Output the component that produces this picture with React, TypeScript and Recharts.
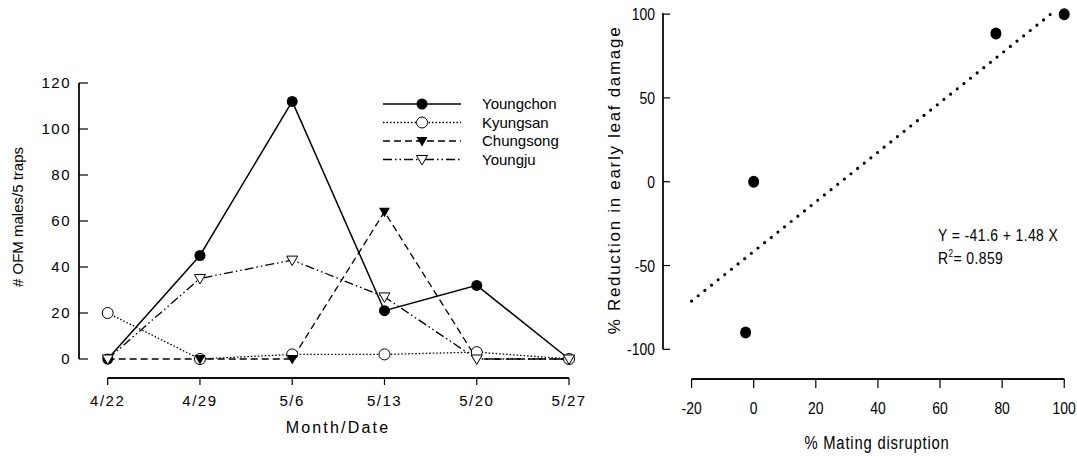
import React from 'react';
import { LineChart, Line, XAxis, YAxis, ScatterChart, Scatter } from 'recharts';

// left panel: weekly trap catches
const dates = ['4/22', '4/29', '5/6', '5/13', '5/20', '5/27'];
const youngchon = [0, 45, 112, 21, 32, 0];
const kyungsan = [20, 0, 2, 2, 3, 0];
const chungsong = [0, 0, 0, 64, 0, 0];
const youngju = [0, 35, 43, 27, 0, 0];
const countTicks = [0, 20, 40, 60, 80, 100, 120];

// right panel: disruption vs. damage reduction
const disruption = [-2.6, 0, 78, 100];
const reduction = [-90, 0, 88.5, 100];
const fitX = [-20, 96];
const fitY = [-71.2, 100.5];
const disruptionTicks = [-20, 0, 20, 40, 60, 80, 100];
const reductionTicks = [-100, -50, 0, 50, 100];

const SANS = "'Liberation Sans', Arial, sans-serif";
const NARROW_SCALE = 0.82; // no Arial Narrow here, squeeze Liberation Sans instead
const OFF = 8; // default tickSize (6) + tickMargin (2): custom ticks get x/y shifted by this

// plot boxes (SigmaPlot style: axes are detached and only span the tick range)
const L = { w: 600, h: 457, top: 83, left: 79, right: 580, bottom: 378, x0: -0.311, x1: 5.119, y0: -8.26, y1: 120 };
const R = { w: 477, h: 457, top: 13.3, left: 63, right: 472, bottom: 379, x0: -29.2, x1: 102.5, y0: -117.7, y1: 100 };

// pixel length of a value span along each axis of a box
const spanX = (b: any, a: number, c: number) => ((c - a) / (b.x1 - b.x0)) * (b.right - b.left);
const spanY = (b: any, a: number, c: number) => ((c - a) / (b.y1 - b.y0)) * (b.bottom - b.top);

// axis lines trimmed to the tick range with a dash pattern
const leftYLine = { stroke: '#000', strokeWidth: 1.3, strokeDasharray: `${spanY(L, 0, 120)} 2000` };
const leftXLine = { stroke: '#000', strokeWidth: 1.3, strokeDasharray: `0 ${spanX(L, L.x0, 0)} ${spanX(L, 0, 5)} 2000` };
const rightYLine = { stroke: '#000', strokeWidth: 1.3, strokeDasharray: `${spanY(R, -100, 100)} 2000` };
const rightXLine = { stroke: '#000', strokeWidth: 1.3, strokeDasharray: `0 ${spanX(R, R.x0, -20)} ${spanX(R, -20, 100)} 2000` };

const trapData = dates.map((d, i) => ({
    idx: i,
    date: d,
    youngchon: youngchon[i],
    kyungsan: kyungsan[i],
    chungsong: chungsong[i],
    youngju: youngju[i],
}));

const scatterData = disruption.map((x, i) => ({ x, y: reduction[i] }));
const fitData = fitX.map((x, i) => ({ x, y: fitY[i] }));

type Marker = 'dot' | 'ring' | 'tri' | 'openTri';

const series: { key: string; name: string; dash?: string; width: number; marker: Marker }[] = [
    { key: 'youngchon', name: 'Youngchon', width: 1.5, marker: 'dot' },
    { key: 'kyungsan', name: 'Kyungsan', dash: '1.5 2', width: 1.3, marker: 'ring' },
    { key: 'chungsong', name: 'Chungsong', dash: '7 4', width: 1.3, marker: 'tri' },
    { key: 'youngju', name: 'Youngju', dash: '9 3 1.5 3 1.5 3', width: 1.3, marker: 'openTri' },
];

const drawMarker = (kind: Marker, cx: number, cy: number, key?: string) => {
    if (kind === 'dot') return <circle key={key} cx={cx} cy={cy} r={5.5} fill="#000" />;
    if (kind === 'ring') return <circle key={key} cx={cx} cy={cy} r={5.5} fill="#fff" stroke="#000" strokeWidth={1} />;
    const pts = `${cx - 5.5},${cy - 4} ${cx + 5.5},${cy - 4} ${cx},${cy + 5.5}`;
    if (kind === 'tri') return <polygon key={key} points={pts} fill="#000" />;
    return <polygon key={key} points={pts} fill="#fff" stroke="#000" strokeWidth={1} />;
};

// the lowest tick of each axis also carries the (trimmed) axis line
const isFirst = (payload: any, first: number) => Math.abs(Number(payload?.value) - first) < 1e-6;

const LeftYTick = ({ x, y, payload }: any) => {
    const ax = Number(x) + OFF;
    const py = Number(y);
    return (
        <g>
            {isFirst(payload, countTicks[0]) && (
                <path d={`M${ax},${py}V${py - spanY(L, 0, 120)}`} stroke="#000" strokeWidth={1.3} fill="none" />
            )}
            <line x1={ax} x2={ax + 9} y1={py} y2={py} stroke="#000" strokeWidth={1.2} />
            <text x={ax - 8} y={py} dy="0.36em" textAnchor="end" fontSize={15} letterSpacing={1.5} fontFamily={SANS} fill="#000">
                {payload.value}
            </text>
        </g>
    );
};

const LeftXTick = ({ x, y, payload }: any) => {
    const px = Number(x);
    const ay = Number(y) - OFF;
    return (
        <g>
            {isFirst(payload, 0) && (
                <path d={`M${px},${ay}H${px + spanX(L, 0, 5)}`} stroke="#000" strokeWidth={1.3} fill="none" />
            )}
            <line x1={px} x2={px} y1={ay} y2={ay + 7} stroke="#000" strokeWidth={1.2} />
            <text x={px} y={ay + 28} textAnchor="middle" fontSize={15} letterSpacing={1.5} fontFamily={SANS} fill="#000">
                {dates[payload.value]}
            </text>
        </g>
    );
};

const RightYTick = ({ x, y, payload }: any) => {
    const ax = Number(x) + OFF;
    const py = Number(y);
    return (
        <g>
            {isFirst(payload, reductionTicks[0]) && (
                <path d={`M${ax},${py}V${py - spanY(R, -100, 100)}`} stroke="#000" strokeWidth={1.3} fill="none" />
            )}
            <line x1={ax} x2={ax + 7} y1={py} y2={py} stroke="#000" strokeWidth={1.2} />
            <text transform={`translate(${ax - 8},${py}) scale(${NARROW_SCALE},1)`} dy="0.36em" textAnchor="end" fontSize={17} fontFamily={SANS} fill="#000">
                {payload.value}
            </text>
        </g>
    );
};

const RightXTick = ({ x, y, payload }: any) => {
    const px = Number(x);
    const ay = Number(y) - OFF;
    return (
        <g>
            {isFirst(payload, disruptionTicks[0]) && (
                <path d={`M${px},${ay}H${px + spanX(R, -20, 100)}`} stroke="#000" strokeWidth={1.3} fill="none" />
            )}
            <line x1={px} x2={px} y1={ay} y2={ay + 9} stroke="#000" strokeWidth={1.2} />
            <text transform={`translate(${px},${ay + 35}) scale(${NARROW_SCALE},1)`} textAnchor="middle" fontSize={17} fontFamily={SANS} fill="#000">
                {payload.value}
            </text>
        </g>
    );
};

const TrapLegend = () => (
    <svg width={190} height={76} style={{ position: 'absolute', left: 383, top: 94 }}>
        {series.map((s, i) => {
            const y = 10 + i * 18.5;
            return (
                <g key={s.key}>
                    <line x1={0} x2={78} y1={y} y2={y} stroke="#000" strokeWidth={s.width} strokeDasharray={s.dash} />
                    {drawMarker(s.marker, 39, y)}
                    <text x={99} y={y} dy="0.36em" fontSize={15} fontFamily={SANS} fill="#000">{s.name}</text>
                </g>
            );
        })}
    </svg>
);

const txt: React.CSSProperties = { position: 'absolute', whiteSpace: 'nowrap', color: '#000', lineHeight: 1, fontFamily: SANS };

export default function App() {
    return (
        <div style={{ position: 'absolute', left: 0, top: 0, width: 1077, height: 457, background: '#fff' }}>
            <div style={{ position: 'absolute', left: 0, top: 0 }}>
                <LineChart width={L.w} height={L.h} data={trapData}
                    margin={{ top: L.top, right: L.w - L.right, bottom: L.h - L.bottom - 30, left: L.left - 60 }}>
                    <XAxis type="number" dataKey="idx" domain={[L.x0, L.x1]} ticks={[0, 1, 2, 3, 4, 5]}
                        axisLine={leftXLine} tickLine={false} tick={LeftXTick} height={30} />
                    <YAxis type="number" domain={[L.y0, L.y1]} ticks={countTicks}
                        axisLine={leftYLine} tickLine={false} tick={LeftYTick} width={60} />
                    {series.map((s) => (
                        <Line
                            key={s.key}
                            type="linear"
                            dataKey={s.key}
                            name={s.name}
                            stroke="#000"
                            strokeWidth={s.width}
                            strokeDasharray={s.dash}
                            dot={(p: any) => drawMarker(s.marker, p.cx, p.cy, `${s.key}-${p.index}`)}
                            activeDot={false}
                            isAnimationActive={false}
                        />
                    ))}
                </LineChart>
            </div>
            <TrapLegend />

            <div style={{ ...txt, left: 17, top: 217, transform: 'translate(-50%, -50%) rotate(-90deg)', fontSize: 15 }}>
                # OFM males/5 traps
            </div>
            <div style={{ ...txt, left: 338, top: 428, transform: 'translate(-50%, -50%)', fontSize: 16, letterSpacing: 2.2 }}>
                Month/Date
            </div>

            <div style={{ position: 'absolute', left: 600, top: 0 }}>
                <ScatterChart width={R.w} height={R.h}
                    margin={{ top: R.top, right: R.w - R.right, bottom: R.h - R.bottom - 30, left: R.left - 50 }}>
                    <XAxis type="number" dataKey="x" domain={[R.x0, R.x1]} ticks={disruptionTicks}
                        axisLine={rightXLine} tickLine={false} tick={RightXTick} height={30} />
                    <YAxis type="number" dataKey="y" domain={[R.y0, R.y1]} ticks={reductionTicks}
                        axisLine={rightYLine} tickLine={false} tick={RightYTick} width={50} />
                    <Scatter
                        data={fitData}
                        line={{ stroke: '#000', strokeWidth: 3.2, strokeDasharray: '0 8.5', strokeLinecap: 'round' }}
                        shape={() => <g />}
                        isAnimationActive={false}
                    />
                    <Scatter
                        data={scatterData}
                        shape={(p: any) => <ellipse cx={p.cx} cy={p.cy} rx={5.5} ry={6} fill="#000" />}
                        isAnimationActive={false}
                    />
                </ScatterChart>
            </div>

            <div style={{ ...txt, left: 614, top: 180, transform: 'translate(-50%, -50%) rotate(-90deg)', fontSize: 17, letterSpacing: 1.7 }}>
                % Reduction in early leaf damage
            </div>
            <div style={{ ...txt, left: 877, top: 443, transform: `translate(-50%, -50%) scaleX(${NARROW_SCALE})`, fontSize: 18, letterSpacing: 1 }}>
                % Mating disruption
            </div>
            <div style={{ ...txt, left: 938, top: 227, transformOrigin: 'left center', transform: `scaleX(${NARROW_SCALE})`, fontSize: 17, letterSpacing: 0.5 }}>
                Y = -41.6 + 1.48 X
            </div>
            <div style={{ ...txt, left: 938, top: 250, transformOrigin: 'left center', transform: `scaleX(${NARROW_SCALE})`, fontSize: 17, letterSpacing: 0.5 }}>
                R<sup style={{ fontSize: 10, verticalAlign: 0, position: 'relative', top: -7 }}>2</sup>= 0.859
            </div>
        </div>
    );
}
